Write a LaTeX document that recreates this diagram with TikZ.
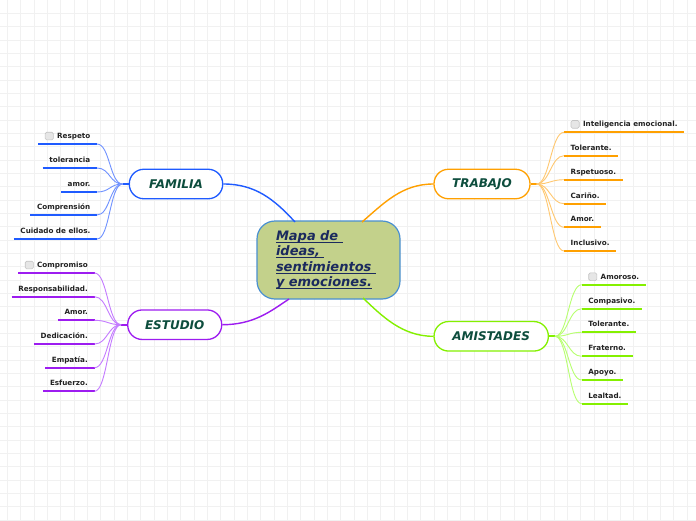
\documentclass[tikz,border=0pt]{standalone}
\usepackage{fontspec}
\setmainfont{DejaVu Sans}
\usepackage{xcolor}
\usepackage{tikz}
\usetikzlibrary{positioning}
\definecolor{gridline}{HTML}{F1F1F1}
\definecolor{centrefill}{HTML}{C3D18B}
\definecolor{centreline}{HTML}{4A90D0}
\definecolor{centretext}{HTML}{1B2A5E}
\definecolor{titletext}{HTML}{0D4D3D}
\definecolor{leaftext}{HTML}{222222}
\definecolor{famblue}{HTML}{1F5BFF}
\definecolor{famlink}{HTML}{7092FF}
\definecolor{estpurple}{HTML}{9D1CF0}
\definecolor{estlink}{HTML}{C47BFF}
\definecolor{trabor}{HTML}{FFA000}
\definecolor{trablink}{HTML}{FFC870}
\definecolor{amisgreen}{HTML}{84F000}
\definecolor{amislink}{HTML}{B8FF70}
\definecolor{chkfill}{HTML}{E6E6E6}
\definecolor{chkline}{HTML}{C4C4C4}
\newcommand{\chk}{\tikz[baseline=0pt]\draw[rounded corners=1.5pt, draw=chkline,
  fill=chkfill, line width=0.6pt] (0pt,-1.5pt) rectangle (8.2pt,6.2pt);\hspace{3.5pt}}
\newcommand{\ulwords}[1]{\leavevmode\setbox0=\hbox{#1}\rlap{\rule[-2.4pt]{\wd0}{1.1pt}}\box0}

\begin{document}
\begin{tikzpicture}[
  x=1pt, y=-1pt,
  centre/.style={draw=centreline, fill=centrefill, rounded corners=18, line width=1.2,
                 minimum width=143, minimum height=78, text width=105, align=left,
                 font=\fontsize{13}{15.4}\selectfont\bfseries\itshape, text=centretext},
  branch/.style={rounded corners=14.5, line width=1.3, fill=white, minimum height=29.5,
                 inner sep=0, font=\fontsize{12}{14}\selectfont\bfseries\itshape,
                 text=titletext},
  leafL/.style={anchor=south east, inner xsep=6.5, inner ysep=3.9, text height=5.5,
                text depth=1.5, font=\fontsize{7.2}{8}\selectfont\bfseries, text=leaftext},
  leafR/.style={leafL, anchor=south west},
  bar/.style={line width=2},
  link/.style={line width=0.9},
  trunk/.style={line width=1.4}
]
  \useasboundingbox (0,0) rectangle (696,520);
  \fill[white] (0,0) rectangle (696,520);
  % background grid
  \foreach \k in {0,...,52}
    \draw[gridline, line width=0.7] (7.33+13.33*\k,0) -- (7.33+13.33*\k,520);
  \foreach \k in {1,...,39}
    \draw[gridline, line width=0.7] (0,13.33*\k) -- (696,13.33*\k);

  % central idea and main branches
  \node[centre] (centre) at (328.5,260) {\ulwords{Mapa de\ }\\\ulwords{ideas,\ }\\
  \ulwords{sentimientos\ }\\\ulwords{y emociones.}};
  \node[branch, draw=famblue, minimum width=93.4] (fam) at (176,184) {FAMILIA};
  \node[branch, draw=estpurple, minimum width=94] (est) at (174.7,324.7) {ESTUDIO};
  \node[branch, draw=trabor, minimum width=96] (trab) at (482,184) {TRABAJO};
  \node[branch, draw=amisgreen, minimum width=114.3] (amis) at (491.2,336.3) {AMISTADES};

  \coordinate (cfam) at (295,222);
  \coordinate (ctrab) at (362,222);
  \coordinate (cest) at (289,299);
  \coordinate (camis) at (363,298);
  \draw[trunk, famblue] (fam.east) .. controls (255,184) and (274,199) .. (cfam);
  \draw[trunk, trabor] (trab.west) .. controls (402,184) and (384,203) .. (ctrab);
  \draw[trunk, estpurple] (est.east) .. controls (254,324.7) and (271,311) .. (cest);
  \draw[trunk, amisgreen] (amis.west) .. controls (402,336.3) and (382,316) .. (camis);

  % hubs
  \coordinate (famhub) at ([xshift=-6pt]fam.west);
  \coordinate (esthub) at ([xshift=-6pt]est.west);
  \coordinate (trabhub) at ([xshift=6pt]trab.east);
  \coordinate (amishub) at ([xshift=6pt]amis.east);
  \draw[bar, famblue] (fam.west) -- (famhub);
  \draw[bar, estpurple] (est.west) -- (esthub);
  \draw[bar, trabor] (trab.east) -- (trabhub);
  \draw[bar, amisgreen] (amis.east) -- (amishub);

  % FAMILIA
  \foreach \txt/\yy [count=\i] in {{\chk Respeto}/144, tolerancia/168, amor./192,
      Comprensión/215, Cuidado de ellos./239}{
    \node[leafL] (fam\i) at (97,\yy) {\txt};
    \draw[bar, famblue] (fam\i.south west) -- (fam\i.south east);
    \draw[link, famlink] (famhub) .. controls +(-13,0) and +(13,0) .. (fam\i.south east);
  }

  % ESTUDIO
  \foreach \txt/\yy [count=\i] in {{\chk Compromiso}/273, Responsabilidad./296.7,
      Amor./320.3, Dedicación./344, Empatía./367.7, Esfuerzo./391.3}{
    \node[leafL] (est\i) at (94.5,\yy) {\txt};
    \draw[bar, estpurple] (est\i.south west) -- (est\i.south east);
    \draw[link, estlink] (esthub) .. controls +(-13,0) and +(13,0) .. (est\i.south east);
  }

  % TRABAJO
  \foreach \txt/\yy [count=\i] in {{\chk Inteligencia emocional.}/132.3, Tolerante./155.7,
      Rspetuoso./179.7, Cariño./203.7, Amor./227.3, Inclusivo./251}{
    \node[leafR] (trab\i) at (564,\yy) {\txt};
    \draw[bar, trabor] (trab\i.south west) -- (trab\i.south east);
    \draw[link, trablink] (trabhub) .. controls +(13,0) and +(-13,0) .. (trab\i.south west);
  }

  % AMISTADES
  \foreach \txt/\yy [count=\i] in {{\chk Amoroso.}/284.7, Compasivo./308.7,
      Tolerante./332.3, Fraterno./356.3, Apoyo./380, Lealtad./403.7}{
    \node[leafR] (amis\i) at (581.7,\yy) {\txt};
    \draw[bar, amisgreen] (amis\i.south west) -- (amis\i.south east);
    \draw[link, amislink] (amishub) .. controls +(13,0) and +(-13,0) .. (amis\i.south west);
  }
\end{tikzpicture}
\end{document}
